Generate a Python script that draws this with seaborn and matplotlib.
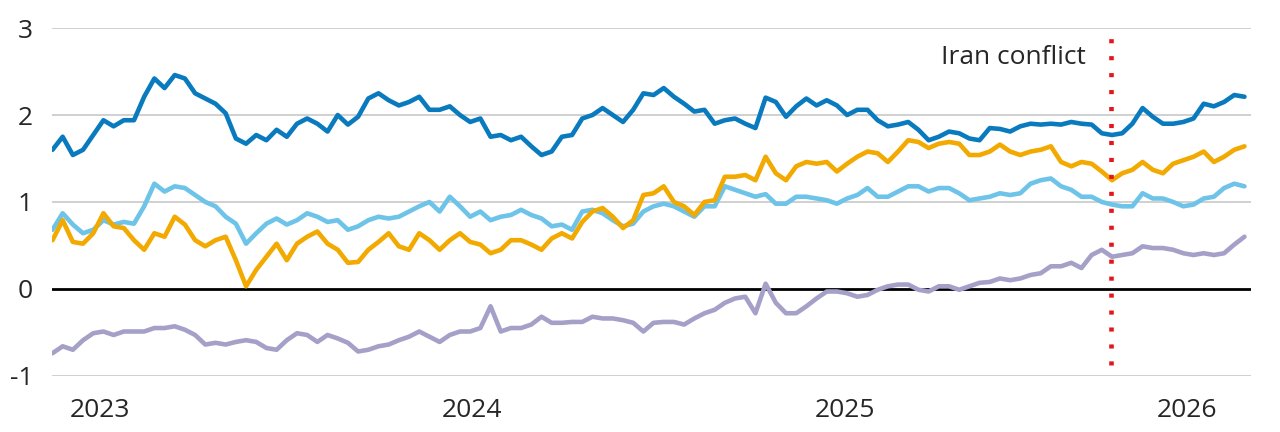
import pandas as pd
import matplotlib.pyplot as plt
import seaborn as sns

sns.set_theme(style="white")
plt.rcParams.update({
    "font.family": ["Open Sans", "DejaVu Sans"],
    "font.size": 19,
    "xtick.labelsize": 19,
    "ytick.labelsize": 19,
})

dates = pd.date_range("2022-11-15", periods=118, freq="10D")

dark_blue = [
    1.60, 1.75, 1.54, 1.60, 1.77, 1.94, 1.87, 1.94, 1.94, 2.21,
    2.42, 2.31, 2.46, 2.42, 2.25, 2.19, 2.13, 2.02, 1.73, 1.67,
    1.77, 1.71, 1.83, 1.75, 1.90, 1.96, 1.90, 1.81, 2.00, 1.89,
    1.98, 2.19, 2.25, 2.17, 2.11, 2.15, 2.21, 2.06, 2.06, 2.10,
    2.00, 1.92, 1.96, 1.75, 1.77, 1.71, 1.75, 1.64, 1.54, 1.58,
    1.75, 1.77, 1.96, 2.00, 2.08, 2.00, 1.92, 2.06, 2.25, 2.23,
    2.31, 2.21, 2.13, 2.04, 2.06, 1.90, 1.94, 1.96, 1.90, 1.85,
    2.20, 2.15, 1.98, 2.10, 2.19, 2.11, 2.17, 2.11, 2.00, 2.06,
    2.06, 1.94, 1.87, 1.89, 1.92, 1.83, 1.71, 1.75, 1.81, 1.79,
    1.73, 1.71, 1.85, 1.84, 1.81, 1.87, 1.90, 1.89, 1.90, 1.89,
    1.92, 1.90, 1.89, 1.79, 1.77, 1.79, 1.90, 2.08, 1.98, 1.90,
    1.90, 1.92, 1.96, 2.13, 2.10, 2.15, 2.23, 2.21,
]
light_blue = [
    0.68, 0.87, 0.74, 0.64, 0.68, 0.79, 0.74, 0.77, 0.75, 0.95,
    1.21, 1.12, 1.18, 1.16, 1.08, 1.00, 0.95, 0.83, 0.75, 0.52,
    0.64, 0.75, 0.81, 0.74, 0.79, 0.87, 0.83, 0.77, 0.79, 0.68,
    0.72, 0.79, 0.83, 0.81, 0.83, 0.89, 0.95, 1.00, 0.89, 1.06,
    0.95, 0.83, 0.89, 0.79, 0.83, 0.85, 0.91, 0.85, 0.81, 0.72,
    0.74, 0.68, 0.89, 0.91, 0.87, 0.79, 0.72, 0.75, 0.89, 0.95,
    0.98, 0.95, 0.89, 0.83, 0.95, 0.95, 1.18, 1.14, 1.10, 1.06,
    1.09, 0.98, 0.98, 1.06, 1.06, 1.04, 1.02, 0.98, 1.04, 1.08,
    1.16, 1.06, 1.06, 1.12, 1.18, 1.18, 1.12, 1.16, 1.16, 1.10,
    1.02, 1.04, 1.06, 1.10, 1.08, 1.10, 1.21, 1.25, 1.27, 1.18,
    1.14, 1.06, 1.06, 1.00, 0.97, 0.95, 0.95, 1.10, 1.04, 1.04,
    1.00, 0.95, 0.97, 1.04, 1.06, 1.16, 1.21, 1.18,
]
orange = [
    0.56, 0.79, 0.54, 0.52, 0.64, 0.87, 0.72, 0.70, 0.56, 0.45,
    0.64, 0.60, 0.83, 0.74, 0.56, 0.49, 0.56, 0.60, 0.33, 0.03,
    0.22, 0.37, 0.52, 0.33, 0.52, 0.60, 0.66, 0.52, 0.45, 0.30,
    0.31, 0.45, 0.54, 0.64, 0.49, 0.45, 0.64, 0.56, 0.45, 0.56,
    0.64, 0.54, 0.51, 0.41, 0.45, 0.56, 0.56, 0.51, 0.45, 0.58,
    0.64, 0.58, 0.77, 0.89, 0.93, 0.83, 0.70, 0.79, 1.08, 1.10,
    1.18, 1.00, 0.95, 0.85, 1.00, 1.02, 1.29, 1.29, 1.31, 1.25,
    1.52, 1.33, 1.25, 1.41, 1.46, 1.44, 1.46, 1.35, 1.44, 1.52,
    1.58, 1.56, 1.46, 1.58, 1.71, 1.69, 1.62, 1.67, 1.69, 1.67,
    1.54, 1.54, 1.58, 1.66, 1.58, 1.54, 1.58, 1.60, 1.64, 1.46,
    1.41, 1.46, 1.44, 1.35, 1.25, 1.33, 1.37, 1.46, 1.37, 1.33,
    1.44, 1.48, 1.52, 1.58, 1.46, 1.52, 1.60, 1.64,
]
purple = [
    -0.74, -0.66, -0.70, -0.59, -0.51, -0.49, -0.53, -0.49, -0.49, -0.49,
    -0.45, -0.45, -0.43, -0.47, -0.53, -0.64, -0.62, -0.64, -0.61, -0.59,
    -0.61, -0.68, -0.70, -0.59, -0.51, -0.53, -0.61, -0.53, -0.57, -0.62,
    -0.72, -0.70, -0.66, -0.64, -0.59, -0.55, -0.49, -0.55, -0.61, -0.53,
    -0.49, -0.49, -0.45, -0.20, -0.49, -0.45, -0.45, -0.41, -0.32, -0.39,
    -0.39, -0.38, -0.38, -0.32, -0.34, -0.34, -0.36, -0.39, -0.49, -0.39,
    -0.38, -0.38, -0.41, -0.34, -0.28, -0.24, -0.16, -0.11, -0.09, -0.28,
    0.06, -0.16, -0.28, -0.28, -0.20, -0.11, -0.03, -0.03, -0.05, -0.09,
    -0.07, -0.01, 0.03, 0.05, 0.05, -0.01, -0.03, 0.03, 0.03, -0.01,
    0.03, 0.07, 0.08, 0.12, 0.10, 0.12, 0.16, 0.18, 0.26, 0.26,
    0.30, 0.24, 0.39, 0.45, 0.37, 0.39, 0.41, 0.49, 0.47, 0.47,
    0.45, 0.41, 0.39, 0.41, 0.39, 0.41, 0.51, 0.60,
]

conflict_date = pd.Timestamp("2025-09-19")
conflict_label = "Iran conflict"
year_ticks = ["2023-01-01", "2024-01-01", "2025-01-01", "2026-01-01"]
year_labels = ["2023", "2024", "2025", "2026"]

palette = {
    "light_blue": "#6ec4e8",
    "orange": "#f2a900",
    "dark_blue": "#0a7abf",
    "purple": "#a5a0c8",
}

df = pd.DataFrame({
    "date": dates,
    "light_blue": light_blue,
    "orange": orange,
    "dark_blue": dark_blue,
    "purple": purple,
}).melt(id_vars="date", var_name="series", value_name="value")

fig, ax = plt.subplots(figsize=(12.8, 4.32), dpi=100)
fig.subplots_adjust(left=0.041, right=0.977, top=0.935, bottom=0.13)

for y in [-1, 1, 2, 3]:
    ax.axhline(y, color="#c4c4c4", linewidth=1.1, zorder=0)
ax.axhline(0, color="black", linewidth=2, zorder=1)

sns.lineplot(
    data=df, x="date", y="value", hue="series",
    hue_order=["light_blue", "orange", "dark_blue", "purple"],
    palette=palette, linewidth=3.3, legend=False, ax=ax, zorder=2,
)

ax.plot([conflict_date, conflict_date], [-0.87, 3], color="#e8141b",
         linewidth=3.3, linestyle=(0, (0.9, 2.8)), dash_capstyle="butt", zorder=3)
ax.annotate(conflict_label, xy=(conflict_date, 2.66), xytext=(-18, 0),
            textcoords="offset points", ha="right", va="center", fontsize=19)

ax.set_ylim(-1, 3)
ax.set_xlim(pd.Timestamp("2022-11-15"), pd.Timestamp("2026-02-03"))
ax.set_yticks([-1, 0, 1, 2, 3])
ax.set_yticklabels(["-1", "0", "1", "2", "3"])
ax.set_xticks(pd.to_datetime(year_ticks))
ax.set_xticklabels(year_labels)
ax.get_xticklabels()[-1].set_horizontalalignment("right")
ax.tick_params(axis="x", length=0, pad=16)
ax.tick_params(axis="y", length=0, pad=14)
ax.set_xlabel("")
ax.set_ylabel("")
sns.despine(left=True, bottom=True)

plt.savefig("out.png", dpi=100)
